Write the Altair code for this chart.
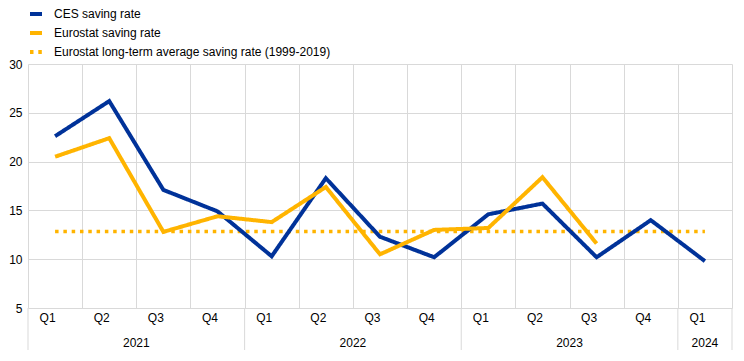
import altair as alt
import pandas as pd

periods = ["2021 Q1", "2021 Q2", "2021 Q3", "2021 Q4",
           "2022 Q1", "2022 Q2", "2022 Q3", "2022 Q4",
           "2023 Q1", "2023 Q2", "2023 Q3", "2023 Q4",
           "2024 Q1"]
ces = [22.6, 26.2, 17.1, 14.9, 10.3, 18.3, 12.3, 10.2, 14.6, 15.7, 10.2, 14.0, 9.8]
eurostat = [20.5, 22.4, 12.8, 14.4, 13.8, 17.4, 10.5, 13.0, 13.2, 18.4, 11.6]
long_term_avg = 12.85
years = ["2021", "2022", "2023", "2024"]
series_names = ["CES saving rate", "Eurostat saving rate",
                "Eurostat long-term average saving rate (1999-2019)"]
colors = ["#003299", "#FFB400", "#FFB400"]
dashes = [[1, 0], [1, 0], [3.5, 4.8]]

W, H = 704, 244
TOP = 56
FONT = "Liberation Sans"

rows = []
for p, v in zip(periods, ces):
    rows.append({"period": p, "value": v, "series": series_names[0]})
for p, v in zip(periods, eurostat):
    rows.append({"period": p, "value": v, "series": series_names[1]})
lines_df = pd.DataFrame(rows)

avg_df = pd.DataFrame({"period": [periods[0], periods[-1]],
                       "value": [long_term_avg, long_term_avg],
                       "series": [series_names[2]] * 2})

year_start_df = pd.DataFrame({"period": [p for p in periods if p.endswith("Q1")]})
year_end_df = pd.DataFrame({"period": [periods[-1]]})
full_year_df = pd.DataFrame({"period": [y + " Q2" for y in years[:-1]],
                             "year": years[:-1]})
last_year_df = pd.DataFrame({"period": [years[-1] + " Q1"], "year": [years[-1]]})

xscale = alt.Scale(type="band", domain=periods, paddingInner=0, paddingOuter=0)
yscale = alt.Scale(domain=[5, 30], nice=False, zero=False)

color = alt.Color("series:N", scale=alt.Scale(domain=series_names, range=colors),
                  legend=alt.Legend(title=None, orient="none", legendX=0, legendY=-TOP - 2,
                                    symbolType="stroke", symbolSize=144,
                                    symbolStrokeWidth=4, rowPadding=3,
                                    labelFont=FONT, labelFontSize=12,
                                    labelColor="#000000", labelOffset=10,
                                    labelLimit=0, padding=0))
dash = alt.StrokeDash("series:N", scale=alt.Scale(domain=series_names, range=dashes),
                      legend=None)

x_axis = alt.X("period:N", scale=xscale, bandPosition=0.5,
               axis=alt.Axis(title=None, tickBand="extent", grid=True,
                             gridColor="#d9d9d9", domain=False, ticks=False,
                             tickSize=0, labelPadding=9, labelAngle=0,
                             labelFont=FONT, labelFontSize=12, labelColor="#000000",
                             labelExpr="split(datum.label, ' ')[1]"))
y_axis = alt.Y("value:Q", scale=yscale,
               axis=alt.Axis(title=None, values=[5, 10, 15, 20, 25, 30], grid=True,
                             gridColor="#d9d9d9", domain=False, ticks=False,
                             tickSize=0, labelPadding=6, labelFont=FONT,
                             labelFontSize=12, labelColor="#000000"))

lines = alt.Chart(lines_df).mark_line(strokeWidth=4, strokeCap="butt").encode(
    x=x_axis, y=y_axis, color=color, strokeDash=dash,
    order=alt.Order("period:N"))

avg_line = alt.Chart(avg_df).mark_line(strokeWidth=3.5, strokeCap="butt").encode(
    x=alt.X("period:N", scale=xscale, bandPosition=0.5),
    y=alt.Y("value:Q", scale=yscale), color=color, strokeDash=dash)

sep_start = alt.Chart(year_start_df).mark_rule(color="#d9d9d9", strokeWidth=1).encode(
    x=alt.X("period:N", scale=xscale, bandPosition=0),
    y=alt.value(H), y2=alt.value(H + 42))
sep_end = alt.Chart(year_end_df).mark_rule(color="#d9d9d9", strokeWidth=1).encode(
    x=alt.X("period:N", scale=xscale, bandPosition=1),
    y=alt.value(H), y2=alt.value(H + 42))

year_text = alt.Chart(full_year_df).mark_text(
    font=FONT, fontSize=12, color="#000000", baseline="middle").encode(
    x=alt.X("period:N", scale=xscale, bandPosition=1),
    y=alt.value(H + 35), text="year:N")
last_year_text = alt.Chart(last_year_df).mark_text(
    font=FONT, fontSize=12, color="#000000", baseline="middle").encode(
    x=alt.X("period:N", scale=xscale, bandPosition=0.5),
    y=alt.value(H + 35), text="year:N")

chart = alt.layer(
    sep_start, sep_end, avg_line, lines, year_text, last_year_text
).properties(
    width=W, height=H,
    autosize=alt.AutoSizeParams(type="none"),
    padding={"left": 20, "top": TOP, "right": 4, "bottom": 42},
    background="#ffffff",
).configure_view(strokeWidth=0)

chart.save("out.html", embed_options={"renderer": "svg", "actions": False})
